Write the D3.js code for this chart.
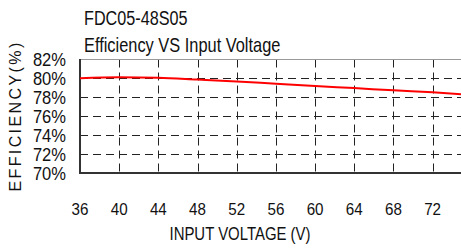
<!DOCTYPE html>
<html>
<head>
<meta charset="utf-8">
<script src="https://cdn.jsdelivr.net/npm/d3@7"></script>
<style>
  body { margin: 0; background: #fff; }
  svg { display: block; }
  text { font-family: "Liberation Sans", Arial, sans-serif; fill: #111; }
</style>
</head>
<body>
<svg width="461" height="252"></svg>
<script>
var voltage = [36, 40, 44, 48, 52, 56, 60, 64, 68, 72, 75];
var efficiency = [80.03, 80.12, 80.07, 79.88, 79.68, 79.44, 79.2, 78.98, 78.74, 78.53, 78.33];
var xTicks = [36, 40, 44, 48, 52, 56, 60, 64, 68, 72];
var yTicks = [70, 72, 74, 76, 78, 80, 82];

var svg = d3.select("svg");
var width = +svg.attr("width"),
    height = +svg.attr("height");

var x = d3.scaleLinear().domain([36, 75]).range([80, 462]);
var y = d3.scaleLinear().domain([70, 82]).range([173, 59.5]);

// squeezed text, like the narrow font in the original
function label(sel, px, py, str, size, anchor, sx) {
  var g = sel.append("g")
    .attr("transform", "translate(" + px + "," + py + ") scale(" + sx + ",1)");
  return g.append("text")
    .attr("text-anchor", anchor)
    .attr("font-size", size + "px")
    .text(str);
}

// grid
svg.append("g").selectAll("line.h")
  .data(yTicks.slice(1, -1))
  .enter().append("line")
    .attr("x1", x(36)).attr("x2", width)
    .attr("y1", function(d) { return Math.round(y(d)) + 0.5; })
    .attr("y2", function(d) { return Math.round(y(d)) + 0.5; })
    .attr("stroke", "#222")
    .attr("stroke-dasharray", "8,5");

svg.append("g").selectAll("line.v")
  .data(xTicks.slice(1))
  .enter().append("line")
    .attr("x1", function(d) { return Math.round(x(d)) + 0.5; })
    .attr("x2", function(d) { return Math.round(x(d)) + 0.5; })
    .attr("y1", y(82)).attr("y2", y(70))
    .attr("stroke", "#222")
    .attr("stroke-dasharray", "8,5");

// frame
svg.append("line")
  .attr("x1", x(36)).attr("x2", width)
  .attr("y1", 59.5).attr("y2", 59.5)
  .attr("stroke", "#999").attr("stroke-width", 1);
svg.append("line")
  .attr("x1", x(36)).attr("x2", width)
  .attr("y1", y(70)).attr("y2", y(70))
  .attr("stroke", "#333").attr("stroke-width", 2);
svg.append("line")
  .attr("x1", x(36)).attr("x2", x(36))
  .attr("y1", 59).attr("y2", y(70) + 1)
  .attr("stroke", "#333").attr("stroke-width", 2);

// curve
var line = d3.line()
  .x(function(d, i) { return x(voltage[i]); })
  .y(function(d) { return y(d); })
  .curve(d3.curveMonotoneX);

svg.append("path")
  .datum(efficiency)
  .attr("fill", "none")
  .attr("stroke", "#ff0000")
  .attr("stroke-width", 2)
  .attr("d", line);

// tick labels
yTicks.forEach(function(t) {
  label(svg, 66, y(t) + 6.7, t + "%", 18, "end", 0.92);
});
xTicks.forEach(function(t) {
  label(svg, x(t), 215, t, 16.5, "middle", 0.92);
});

// titles
label(svg, 84, 24.5, "FDC05-48S05", 20, "start", 0.81);
label(svg, 84, 52, "Efficiency VS Input Voltage", 20, "start", 0.82);
label(svg, 240, 240, "INPUT VOLTAGE (V)", 18, "middle", 0.83);

svg.append("text")
  .attr("transform", "translate(21,116) rotate(-90)")
  .attr("text-anchor", "middle")
  .attr("font-size", "16px")
  .attr("letter-spacing", "2.4px")
  .text("EFFICIENCY(%)");
</script>
</body>
</html>
